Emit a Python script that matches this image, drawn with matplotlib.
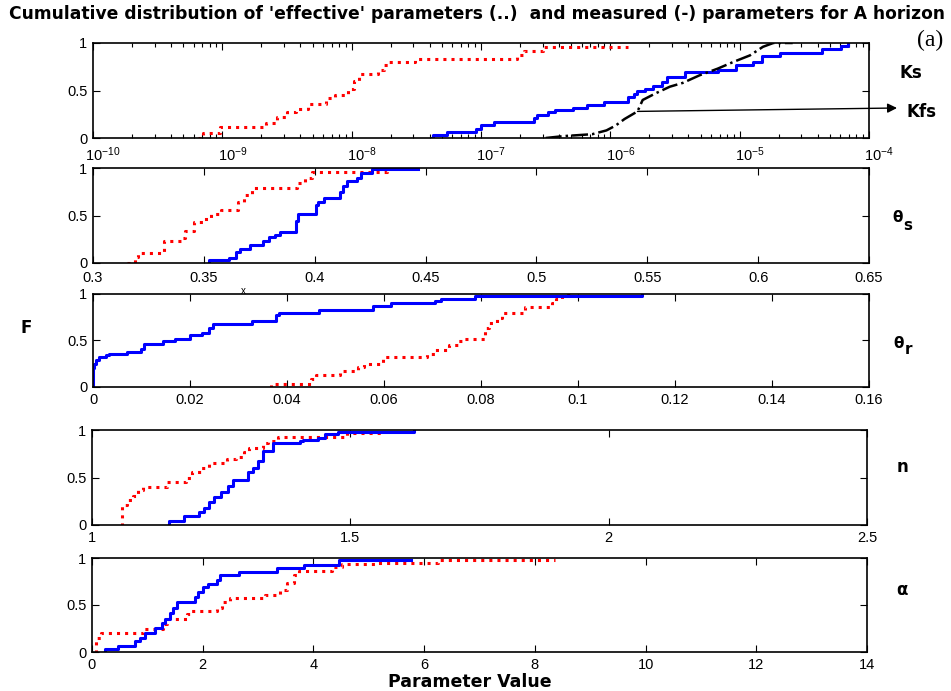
import numpy as np
import matplotlib
matplotlib.use("Agg")
import matplotlib.pyplot as plt
from matplotlib.ticker import FixedLocator, NullFormatter, LogFormatterSciNotation
from matplotlib.transforms import ScaledTranslation

plt.rcParams['font.family'] = ['Liberation Sans', 'DejaVu Sans']
plt.rcParams['mathtext.fontset'] = 'custom'
plt.rcParams['mathtext.rm'] = 'Liberation Sans'

# ---- data (x where each level starts, F level) ----
# Ks (log10 of value)
ks_eff_log = [-9.19, -9.15, -9.02, -8.66, -8.58, -8.50, -8.43, -8.34, -8.20, -8.13, -8.03,
              -7.98, -7.94, -7.80, -7.75, -7.71, -7.51, -6.72, -6.67, -6.52, -5.86]
ks_eff_F = [0, 0.05, 0.12, 0.16, 0.22, 0.27, 0.31, 0.36, 0.42, 0.45, 0.52,
            0.60, 0.67, 0.72, 0.77, 0.80, 0.83, 0.87, 0.92, 0.96, 0.96]
ks_mea_log = [-7.38, -7.37, -7.26, -7.04, -7.00, -6.90, -6.59, -6.57, -6.48, -6.43, -6.29,
              -6.18, -6.05, -5.86, -5.82, -5.79, -5.73, -5.67, -5.60, -5.56, -5.42,
              -5.17, -5.03, -4.90, -4.83, -4.69, -4.36, -4.22, -4.16]
ks_mea_F = [0, 0.03, 0.06, 0.10, 0.14, 0.17, 0.21, 0.24, 0.27, 0.29, 0.32,
            0.35, 0.38, 0.43, 0.46, 0.50, 0.52, 0.55, 0.59, 0.645, 0.70,
            0.72, 0.77, 0.80, 0.86, 0.90, 0.94, 0.97, 1.0]
kfs_log = [-6.50, -6.36, -6.14, -6.03, -5.96, -5.89, -5.79, -5.75, -5.65, -5.54, -5.44,
           -5.31, -5.17, -5.05, -4.92, -4.82, -4.74, -4.59]
kfs_F = [0, 0.02, 0.04, 0.08, 0.13, 0.20, 0.28, 0.40, 0.47, 0.54, 0.58,
         0.66, 0.73, 0.80, 0.87, 0.96, 1.0, 1.0]

# theta_s
ths_eff = [0.3155, 0.319, 0.3205, 0.332, 0.3395, 0.3414, 0.3457, 0.350, 0.3534, 0.3578,
           0.3655, 0.368, 0.3716, 0.392, 0.3957, 0.399, 0.4328]
ths_eff_F = [0, 0.06, 0.11, 0.23, 0.26, 0.34, 0.43, 0.46, 0.52, 0.56,
             0.64, 0.72, 0.79, 0.84, 0.90, 0.96, 1.0]
ths_mea = [0.3522, 0.3523, 0.3612, 0.3647, 0.3665, 0.3707, 0.3767, 0.3793, 0.3819, 0.3845,
           0.3914, 0.3926, 0.4005, 0.4017, 0.4043, 0.4112, 0.4129, 0.4147, 0.4190, 0.4207,
           0.4259, 0.4466]
ths_mea_F = [0, 0.03, 0.05, 0.12, 0.15, 0.19, 0.23, 0.27, 0.30, 0.33,
             0.44, 0.52, 0.61, 0.64, 0.68, 0.75, 0.81, 0.86, 0.90, 0.95,
             0.985, 0.985]

# theta_r
thr_mea = [0.0, 0.0001, 0.0003, 0.0006, 0.0013, 0.0026, 0.0034, 0.0070, 0.0098, 0.0106,
           0.0145, 0.0169, 0.0201, 0.0225, 0.0240, 0.0248, 0.0328, 0.0377, 0.0383, 0.0467,
           0.0578, 0.0615, 0.0705, 0.0717, 0.0788, 0.1131]
thr_mea_F = [0, 0.20, 0.25, 0.29, 0.32, 0.34, 0.35, 0.38, 0.41, 0.46,
             0.49, 0.52, 0.56, 0.58, 0.63, 0.68, 0.71, 0.77, 0.80, 0.83,
             0.87, 0.90, 0.92, 0.95, 0.98, 0.99]
thr_eff = [0.0365, 0.0366, 0.0450, 0.0459, 0.0510, 0.0546, 0.0558, 0.0598, 0.0689, 0.0705,
           0.0733, 0.0752, 0.0764, 0.0808, 0.0816, 0.0832, 0.0844, 0.0891, 0.0947, 0.0955,
           0.0967, 0.0983]
thr_eff_F = [0, 0.035, 0.09, 0.125, 0.17, 0.21, 0.25, 0.32, 0.36, 0.40,
             0.45, 0.49, 0.52, 0.63, 0.69, 0.74, 0.80, 0.86, 0.90, 0.95,
             0.99, 1.0]

# n
n_eff = [1.0553, 1.0586, 1.067, 1.080, 1.0898, 1.0996, 1.145, 1.181, 1.194, 1.210,
         1.2266, 1.262, 1.2786, 1.295, 1.3047, 1.3307, 1.3405, 1.360, 1.4935, 1.5618]
n_eff_F = [0, 0.21, 0.265, 0.31, 0.37, 0.40, 0.45, 0.49, 0.555, 0.60,
           0.65, 0.69, 0.72, 0.77, 0.81, 0.86, 0.88, 0.93, 0.965, 1.0]
n_mea = [1.1484, 1.1485, 1.1777, 1.207, 1.2168, 1.2266, 1.2363, 1.2493, 1.2624, 1.2721,
         1.3014, 1.3112, 1.321, 1.3307, 1.3503, 1.4023, 1.4088, 1.4382, 1.4512, 1.476,
         1.6237]
n_mea_F = [0, 0.04, 0.095, 0.14, 0.18, 0.24, 0.29, 0.35, 0.41, 0.47,
           0.555, 0.60, 0.67, 0.78, 0.86, 0.88, 0.90, 0.92, 0.955, 0.98,
           0.99]

# alpha
al_mea = [0.23, 0.231, 0.47, 0.77, 0.865, 0.955, 1.137, 1.258, 1.318, 1.409,
          1.469, 1.53, 1.862, 1.923, 2.013, 2.10, 2.255, 2.316, 2.648, 3.343,
          3.827, 4.462, 5.762]
al_mea_F = [0, 0.035, 0.06, 0.115, 0.15, 0.205, 0.26, 0.31, 0.35, 0.42,
            0.47, 0.53, 0.59, 0.64, 0.69, 0.72, 0.765, 0.82, 0.855, 0.89,
            0.93, 0.975, 0.975]
al_eff = [0.048, 0.079, 0.169, 0.925, 1.288, 1.348, 1.711, 1.771, 2.255, 2.346,
          2.497, 3.132, 3.404, 3.525, 3.646, 3.736, 4.341, 4.522, 5.127, 6.245,
          8.36]
al_eff_F = [0, 0.15, 0.205, 0.24, 0.30, 0.35, 0.40, 0.44, 0.47, 0.53,
            0.57, 0.61, 0.66, 0.73, 0.82, 0.865, 0.90, 0.935, 0.945, 0.98,
            0.98]

ks_ticks = [1e-10, 1e-9, 1e-8, 1e-7, 1e-6, 1e-5, 1e-4]

W, H = 951, 691
fig = plt.figure(figsize=(W / 100, H / 100), dpi=100)


def pax(left, top, right, bottom):
    return fig.add_axes([left / W, 1 - bottom / H, (right - left) / W, (bottom - top) / H])


def style(ax):
    ax.set_ylim(0, 1)
    ax.set_yticks([0, 0.5, 1])
    ax.set_yticklabels(['0', '0.5', '1'])
    ax.tick_params(which='both', direction='in', top=True, right=True, labelsize=10.5,
                   length=5, width=0.8, pad=4)
    ax.tick_params(which='minor', length=3)
    for s in ax.spines.values():
        s.set_linewidth(1.2)


red = dict(color='#ff0000', linestyle=':', linewidth=2.2, where='post')
blue = dict(color='#0000ff', linestyle='-', linewidth=2.2, where='post')

# Ks
ax1 = pax(93, 43, 869, 138)
ax1.step(10 ** np.array(ks_eff_log), ks_eff_F, **red)
ax1.step(10 ** np.array(ks_mea_log), ks_mea_F, **blue)
ax1.plot(10 ** np.array(kfs_log), kfs_F, color='black', linestyle='-.', linewidth=1.8)
ax1.set_xscale('log')
ax1.set_xlim(1e-10, 1e-4)
ax1.xaxis.set_major_locator(FixedLocator(ks_ticks))
ax1.xaxis.set_major_formatter(LogFormatterSciNotation())
minor = [m * t for t in ks_ticks[:-1] for m in range(2, 10)]
ax1.xaxis.set_minor_locator(FixedLocator(minor))
ax1.xaxis.set_minor_formatter(NullFormatter())
style(ax1)
ax1.tick_params(axis='x', pad=5)
shift = ScaledTranslation(10 / 100, 0, fig.dpi_scale_trans)
for lab in ax1.get_xticklabels():
    lab.set_transform(lab.get_transform() + shift)

# theta_s
ax2 = pax(93, 168, 869, 263)
ax2.step(ths_eff, ths_eff_F, **red)
ax2.step(ths_mea, ths_mea_F, **blue)
ax2.set_xlim(0.3, 0.65)
ax2.set_xticks(np.arange(0.3, 0.651, 0.05))
ax2.set_xticklabels(['0.3', '0.35', '0.4', '0.45', '0.5', '0.55', '0.6', '0.65'])
style(ax2)
ax2.tick_params(axis='x', pad=6)

# theta_r
ax3 = pax(93, 294, 869, 387)
ax3.step(thr_eff, thr_eff_F, **red)
ax3.step(thr_mea, thr_mea_F, **blue)
ax3.set_xlim(0, 0.16)
ax3.set_xticks(np.arange(0, 0.161, 0.02))
ax3.set_xticklabels(['0', '0.02', '0.04', '0.06', '0.08', '0.1', '0.12', '0.14', '0.16'])
style(ax3)

# n
ax4 = pax(92, 430, 867, 525)
ax4.step(n_eff, n_eff_F, **red)
ax4.step(n_mea, n_mea_F, **blue)
ax4.set_xlim(1, 2.5)
ax4.set_xticks([1, 1.5, 2, 2.5])
ax4.set_xticklabels(['1', '1.5', '2', '2.5'])
style(ax4)

# alpha
ax5 = pax(92, 558, 867, 652)
ax5.step(al_eff, al_eff_F, **red)
ax5.step(al_mea, al_mea_F, **blue)
ax5.set_xlim(0, 14)
ax5.set_xticks(np.arange(0, 15, 2))
style(ax5)


def ft(x, y, s, **kw):
    fig.text(x / W, 1 - y / H, s, ha='center', va='center', **kw)


bold = dict(fontweight='bold', family=['DejaVu Sans'])
ft(477, 14, "Cumulative distribution of 'effective' parameters (..)  and measured (-) parameters for A horizon",
   fontsize=12.35, **bold)
ft(930, 40, '(a)', fontsize=17, family='Liberation Serif')
ft(911, 73, 'Ks', fontsize=12, **bold)
ft(922, 112, 'Kfs', fontsize=12, **bold)
ft(898, 218, 'θ', fontsize=11, **bold)
ft(908, 225, 's', fontsize=11, **bold)
ft(899, 343, 'θ', fontsize=11, **bold)
ft(908, 350, 'r', fontsize=11, **bold)
ft(902, 467, 'n', fontsize=12, **bold)
ft(902, 590, 'α', fontsize=12, **bold)
ft(26, 328, 'F', fontsize=12, **bold)
ft(470, 682, 'Parameter Value', fontsize=12.5, **bold)
ft(243, 291, 'x', fontsize=7)

ax1.annotate('', xy=(897 / W, 1 - 108 / H), xycoords='figure fraction',
             xytext=(10 ** -5.79, 0.28), textcoords='data',
             arrowprops=dict(arrowstyle='-|>', color='black', lw=1.0,
                             mutation_scale=14, shrinkA=0, shrinkB=0),
             annotation_clip=False)

fig.savefig('out.png', dpi=100)
